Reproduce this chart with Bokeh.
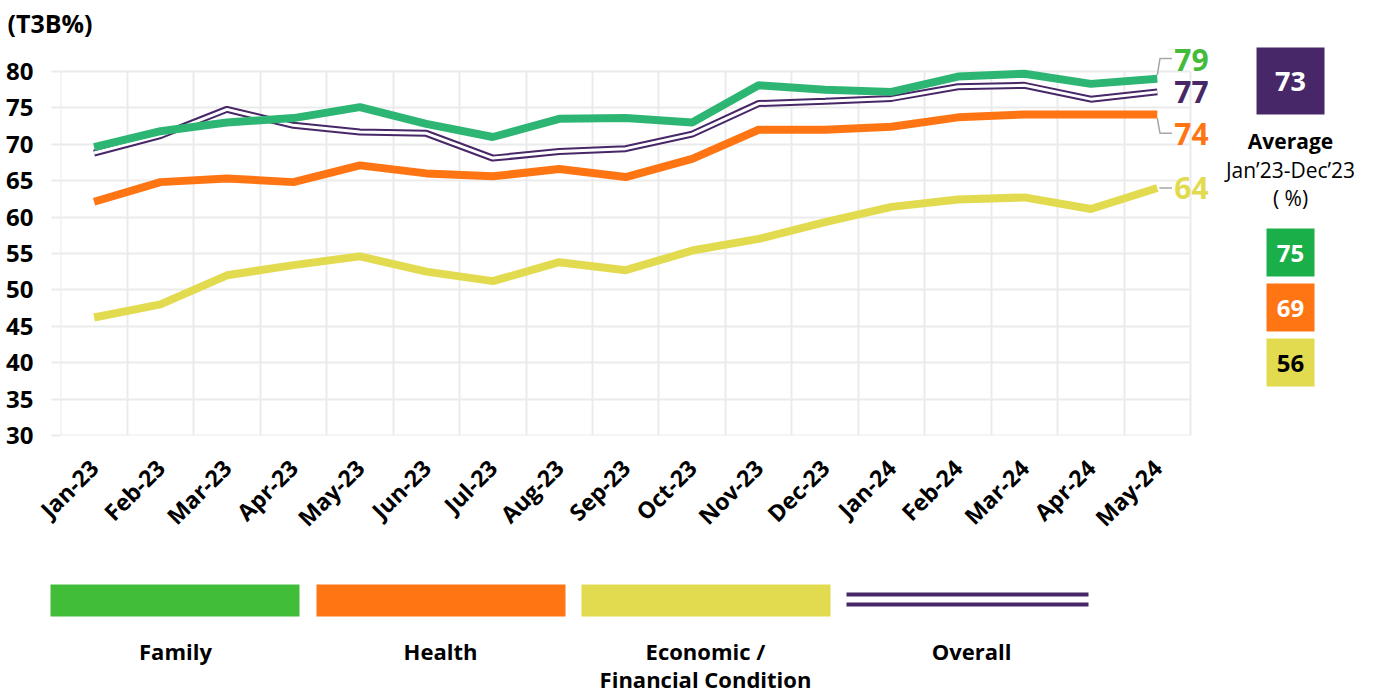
import math
from bokeh.plotting import figure
from bokeh.models import Range1d, FixedTicker, ColumnDataSource
from bokeh.layouts import row, column
from bokeh.embed import file_html
from bokeh.resources import INLINE
from bokeh.core.properties import value

# ---------------- data ----------------
months = ["Jan-23", "Feb-23", "Mar-23", "Apr-23", "May-23", "Jun-23", "Jul-23",
          "Aug-23", "Sep-23", "Oct-23", "Nov-23", "Dec-23", "Jan-24", "Feb-24",
          "Mar-24", "Apr-24", "May-24"]
family = [69.6, 71.8, 73.0, 73.6, 75.1, 72.8, 71.0, 73.5, 73.6, 73.0, 78.1,
          77.5, 77.2, 79.3, 79.7, 78.3, 79.0]
health = [62.1, 64.8, 65.3, 64.8, 67.1, 66.0, 65.6, 66.6, 65.5, 68.0, 72.0,
          72.0, 72.4, 73.7, 74.1, 74.1, 74.1]
economic = [46.2, 48.0, 52.0, 53.4, 54.6, 52.5, 51.2, 53.8, 52.7, 55.4, 57.0,
            59.3, 61.4, 62.4, 62.7, 61.1, 64.0]
overall = [68.8, 71.2, 74.8, 72.6, 71.7, 71.5, 68.1, 69.0, 69.4, 71.4, 75.6,
           75.9, 76.3, 77.9, 78.1, 76.2, 77.2]
end_labels = ["79", "74", "64", "77"]
avg_overall = "73"
avg_labels = ["75", "69", "56"]
series_names = ["Family", "Health", "Economic /\nFinancial Condition", "Overall"]
y_ticks = [30, 35, 40, 45, 50, 55, 60, 65, 70, 75, 80]
y_min, y_max = 30, 80

# ---------------- styles ----------------
GREEN_LINE = "#2db673"
GREEN_LBL = "#44bb3a"
GREEN_BOX = "#1aaf48"
GREEN_LEG = "#41bd3a"
ORANGE = "#ff7514"
YELLOW = "#e2db50"
PURPLE = "#472767"
GRID = "#ebebeb"
CONN = "#a6a6a6"
FONT = "Open Sans"

n = len(months)
idx = list(range(n))

# ---------------- layout (pixels) ----------------
W, H_MAIN, H_LEG = 1378, 560, 134
PLOT_L, PLOT_R = 60, 1190          # chart area (gridded)
PLOT_T, PLOT_B = 71, 435
FRAME_T = 40                        # frame extends above / right of grid
PX_PER_X = (PLOT_R - PLOT_L) / n
PX_PER_Y = (PLOT_B - PLOT_T) / (y_max - y_min)


def xd(px):
    return -0.5 + (px - PLOT_L) / PX_PER_X


def yd(py):
    return y_min + (PLOT_B - py) / PX_PER_Y


# ---------------- main chart ----------------
p = figure(width=W, height=H_MAIN, output_backend="svg", toolbar_location=None,
           x_range=Range1d(xd(PLOT_L) - 0.005, xd(W)),
           y_range=Range1d(y_min - 0.01, yd(FRAME_T)),
           min_border_left=PLOT_L, min_border_right=0, min_border_top=FRAME_T,
           min_border_bottom=H_MAIN - PLOT_B)
p.outline_line_color = None
p.background_fill_color = "white"
p.border_fill_color = "white"

p.title.text = "(T3B%)"
p.title.text_font = FONT
p.title.text_font_style = "bold"
p.title.text_font_size = "25px"
p.title.text_color = "black"
p.title.align = "left"
p.title.offset = -53
p.title.standoff = 1

p.xaxis.ticker = FixedTicker(ticks=idx)
p.xaxis.major_label_overrides = {i: m for i, m in zip(idx, months)}
p.xaxis.major_label_orientation = math.pi / 4
p.xaxis.major_label_text_font = FONT
p.xaxis.major_label_text_font_style = "bold"
p.xaxis.major_label_text_font_size = "23px"
p.xaxis.major_label_text_color = "black"
p.xaxis.axis_line_color = None
p.xaxis.major_tick_line_color = None
p.xaxis.minor_tick_line_color = None
p.xaxis.major_label_standoff = 22

p.yaxis.ticker = FixedTicker(ticks=y_ticks)
p.yaxis.major_label_text_font = FONT
p.yaxis.major_label_text_font_style = "bold"
p.yaxis.major_label_text_font_size = "24px"
p.yaxis.major_label_text_color = "black"
p.yaxis.axis_line_color = None
p.yaxis.major_tick_line_color = GRID
p.yaxis.major_tick_line_width = 2
p.yaxis.major_tick_out = 9
p.yaxis.major_tick_in = 0
p.yaxis.minor_tick_line_color = None
p.yaxis.major_label_standoff = 18

p.xgrid.ticker = FixedTicker(ticks=[i - 0.5 for i in range(n + 1)])
p.xgrid.grid_line_color = GRID
p.xgrid.grid_line_width = 2
p.xgrid.cross_bounds = (y_min, y_max)
p.ygrid.grid_line_color = GRID
p.ygrid.grid_line_width = 2
p.ygrid.cross_bounds = (-0.5, n - 0.5)

src = ColumnDataSource(dict(x=idx, family=family, health=health,
                            economic=economic, overall=overall))
# overall double line: thick purple with a white core
p.line("x", "overall", source=src, line_color=PURPLE, line_width=7)
p.line("x", "overall", source=src, line_color="white", line_width=3)
p.line("x", "economic", source=src, line_color=YELLOW, line_width=8)
p.line("x", "health", source=src, line_color=ORANGE, line_width=8)
p.line("x", "family", source=src, line_color=GREEN_LINE, line_width=8)

# connectors from line ends to the end labels
last = n - 1
p.line([last, last + 0.04, last + 0.22], [family[-1] + 0.5, family[-1] + 2.8, family[-1] + 2.8],
       line_color=CONN, line_width=1.5)
p.line([last, last + 0.04, last + 0.22], [health[-1] - 0.5, health[-1] - 2.6, health[-1] - 2.6],
       line_color=CONN, line_width=1.5)
p.line([last + 0.03, last + 0.22], [economic[-1], economic[-1]],
       line_color=CONN, line_width=1.5)

end_vals = [family[-1], health[-1], economic[-1], overall[-1]]
end_cols = [GREEN_LBL, ORANGE, YELLOW, PURPLE]
end_dy = [-19, 20, 0, 0]
for txt, v, c, dy in zip(end_labels, end_vals, end_cols, end_dy):
    p.text(x=[last], y=[v], text=[txt], x_offset=17, y_offset=dy,
           text_font=value(FONT), text_font_style="bold", text_font_size="30px",
           text_color=c, text_align="left", text_baseline="middle")

# ---------------- averages panel (right) ----------------
CX = 1290
p.rect(x=[xd(CX)], y=[yd(80.5)], width=68, height=67, width_units="screen",
       height_units="screen", fill_color=PURPLE, line_color=None)
p.text(x=[xd(CX)], y=[yd(81)], text=[avg_overall], text_font=value(FONT),
       text_font_style="bold", text_font_size="27px", text_color="white",
       text_align="center", text_baseline="middle")
p.text(x=[xd(CX)], y=[yd(141)], text=["Average"], text_font=value(FONT),
       text_font_style="bold", text_font_size="21px", text_color="black",
       text_align="center", text_baseline="middle")
p.text(x=[xd(CX)], y=[yd(170)], text=["Jan\u201923-Dec\u201923"], text_font=value(FONT),
       text_font_size="21px", text_color="black", text_align="center", text_baseline="middle")
p.text(x=[xd(CX)], y=[yd(198)], text=["( %)"], text_font=value(FONT),
       text_font_size="21px", text_color="black", text_align="center", text_baseline="middle")
box_py = [252, 307, 362]
box_cols = [GREEN_BOX, ORANGE, YELLOW]
txt_cols = ["white", "white", "black"]
p.rect(x=[xd(CX)] * 3, y=[yd(b) for b in box_py], width=48, height=48,
       width_units="screen", height_units="screen", fill_color=box_cols, line_color=None)
p.text(x=[xd(CX)] * 3, y=[yd(b + 1) for b in box_py], text=avg_labels, text_font=value(FONT),
       text_font_style="bold", text_font_size="24px", text_color=txt_cols,
       text_align="center", text_baseline="middle")

# ---------------- legend strip ----------------
lg = figure(width=W, height=H_LEG, output_backend="svg", toolbar_location=None,
            x_range=Range1d(0, W), y_range=Range1d(H_MAIN + H_LEG, H_MAIN), min_border=0)
lg.axis.visible = False
lg.grid.visible = False
lg.outline_line_color = None
bar_cx = [174.5, 440.5, 705.5]
lg.rect(x=bar_cx, y=[600] * 3, width=249, height=32,
        fill_color=[GREEN_LEG, ORANGE, YELLOW], line_color=None)
lg.line([846, 1088], [594, 594], line_color=PURPLE, line_width=4)
lg.line([846, 1088], [604, 604], line_color=PURPLE, line_width=4)
lbl_x = [175, 440, 705, 971]
for x, name in zip(lbl_x, series_names):
    for k, t in enumerate(name.split("\n")):
        lg.text(x=[x], y=[650 + 28 * k], text=[t], text_font=value(FONT),
                text_font_style="bold", text_font_size="22px", text_color="black",
                text_align="center", text_baseline="middle")

layout = column(row(p), lg, spacing=0)
open("out.html", "w").write(file_html(layout, INLINE))
